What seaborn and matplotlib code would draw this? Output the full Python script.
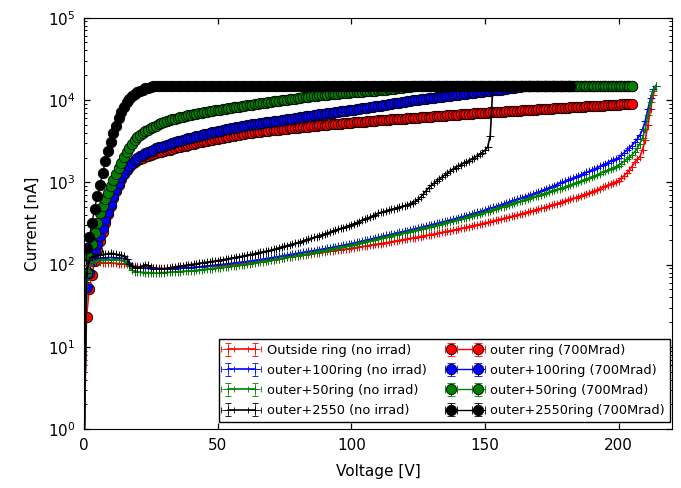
import matplotlib
matplotlib.use("Agg")
import matplotlib.pyplot as plt
import seaborn as sns

# ---------------- data ----------------
labels_non = ["Outside ring (no irrad)", "outer+100ring (no irrad)",
              "outer+50ring (no irrad)", "outer+2550 (no irrad)"]
labels_irr = ["outer ring (700Mrad)", "outer+100ring (700Mrad)",
              "outer+50ring (700Mrad)", "outer+2550ring (700Mrad)"]
colors = ["red", "blue", "green", "black"]

# voltages: 1 V steps
v_red_irr = list(range(0, 206))
v_blue_irr = list(range(0, 206))
v_green_irr = list(range(0, 206))
v_black_irr = list(range(0, 183))
v_red_non = list(range(0, 215))
v_blue_non = list(range(0, 215))
v_green_non = list(range(0, 215))
v_black_non = list(range(0, 154))

i_red_irr = [
    0.5, 23, 50, 75, 110, 150, 195, 250, 320, 410,
    520, 650, 790, 940, 1100, 1260, 1400, 1530, 1650, 1760,
    1850, 1930, 2000, 2060, 2110, 2160, 2210, 2260, 2310, 2350,
    2400, 2450, 2500, 2550, 2600, 2650, 2700, 2750, 2800, 2850,
    2900, 2950, 3000, 3050, 3100, 3150, 3200, 3250, 3300, 3350,
    3400, 3450, 3500, 3550, 3600, 3650, 3700, 3740, 3790, 3830,
    3880, 3920, 3960, 4000, 4040, 4080, 4120, 4160, 4200, 4240,
    4280, 4310, 4350, 4380, 4420, 4450, 4480, 4520, 4550, 4590,
    4620, 4660, 4690, 4730, 4760, 4800, 4840, 4870, 4910, 4940,
    4980, 5010, 5050, 5080, 5120, 5150, 5180, 5220, 5250, 5290,
    5320, 5350, 5380, 5420, 5450, 5480, 5510, 5540, 5580, 5610,
    5640, 5670, 5700, 5740, 5770, 5800, 5830, 5860, 5900, 5930,
    5960, 5990, 6020, 6060, 6090, 6120, 6160, 6190, 6230, 6260,
    6300, 6330, 6370, 6400, 6440, 6470, 6510, 6540, 6580, 6610,
    6650, 6690, 6720, 6760, 6790, 6830, 6860, 6900, 6930, 6970,
    7000, 7040, 7070, 7110, 7140, 7180, 7210, 7250, 7280, 7320,
    7350, 7380, 7420, 7450, 7490, 7520, 7560, 7590, 7630, 7660,
    7700, 7740, 7770, 7810, 7840, 7880, 7920, 7950, 7990, 8020,
    8060, 8100, 8130, 8170, 8200, 8240, 8280, 8310, 8350, 8380,
    8420, 8460, 8490, 8530, 8560, 8600, 8640, 8680, 8720, 8760,
    8800, 8840, 8880, 8920, 8960, 9000]

i_blue_irr = [
    0.5, 54, 80, 110, 145, 180, 220, 275, 345, 435,
    550, 680, 830, 990, 1150, 1310, 1460, 1600, 1730, 1850,
    1960, 2060, 2160, 2250, 2340, 2420, 2500, 2580, 2650, 2720,
    2790, 2860, 2930, 3000, 3070, 3140, 3210, 3280, 3350, 3420,
    3490, 3560, 3630, 3700, 3770, 3840, 3910, 3980, 4050, 4120,
    4190, 4260, 4330, 4400, 4460, 4530, 4600, 4660, 4730, 4790,
    4860, 4920, 4990, 5050, 5110, 5160, 5220, 5280, 5340, 5390,
    5450, 5510, 5570, 5620, 5680, 5740, 5810, 5880, 5960, 6030,
    6100, 6170, 6240, 6310, 6380, 6460, 6530, 6600, 6670, 6750,
    6820, 6900, 6970, 7050, 7120, 7200, 7270, 7350, 7420, 7500,
    7570, 7660, 7740, 7830, 7910, 8000, 8090, 8170, 8260, 8340,
    8430, 8510, 8600, 8720, 8830, 8950, 9070, 9180, 9300, 9420,
    9530, 9650, 9770, 9880, 10000, 10100, 10200, 10300, 10400, 10500,
    10600, 10700, 10800, 10900, 11000, 11100, 11200, 11300, 11410, 11520,
    11630, 11730, 11840, 11950, 12060, 12170, 12280, 12380, 12490, 12600,
    12710, 12820, 12940, 13050, 13160, 13270, 13390, 13500, 13670, 13830,
    14000, 14170, 14330, 14500, 14800, 15000, 15000, 15000, 15000, 15000,
] + [15000] * 36

i_green_irr = [
    0.5, 78, 125, 180, 240, 320, 420, 520, 620, 750,
    890, 1070, 1260, 1480, 1740, 2040, 2340, 2630, 2950, 3240,
    3550, 3800, 4000, 4170, 4350, 4530, 4700, 4880, 5050, 5220,
    5380, 5530, 5680, 5820, 5960, 6090, 6200, 6300, 6400, 6500,
    6600, 6700, 6790, 6890, 6990, 7090, 7180, 7280, 7380, 7470,
    7570, 7660, 7760, 7850, 7950, 8040, 8140, 8230, 8320, 8420,
    8510, 8610, 8700, 8800, 8900, 9000, 9100, 9200, 9300, 9400,
    9500, 9600, 9700, 9800, 9900, 10000, 10110, 10220, 10330, 10430,
    10540, 10650, 10760, 10870, 10980, 11080, 11190, 11300, 11380, 11470,
    11550, 11640, 11720, 11810, 11890, 11980, 12060, 12150, 12230, 12320,
    12400, 12470, 12530, 12600, 12670, 12730, 12800, 12870, 12930, 13000,
    13070, 13130, 13200, 13340, 13480, 13620, 13750, 13890, 14030, 14170,
    14310, 14450, 14580, 14720, 14860,
] + [15000] * 81

i_black_irr = [
    0.5, 158, 215, 320, 480, 690, 930, 1300, 1800, 2400,
    3100, 4000, 4900, 6000, 7100, 8300, 9400, 10300, 11100, 11800,
    12400, 12900, 13400, 13800, 14100, 14400, 14600, 14800, 14900,
] + [15000] * 154

i_red_non = [
    0.5, 60, 95, 104, 107, 108, 107, 106, 106, 105,
    105, 104, 104, 103, 103, 102, 101, 99, 97, 96,
    95, 94, 93, 93, 92, 92, 91, 91, 90, 90,
    90, 90, 90, 90, 91, 91, 91, 91, 92, 92,
    92, 92.5, 93, 93.5, 94, 94.5, 95, 95.5, 96, 96.5,
    97, 97.6, 98.2, 98.8, 99.4, 100, 100.6, 101.2, 101.8, 102.4,
    103, 104, 105, 106, 107, 108.5, 109.5, 110.5, 111.5, 113,
    114, 115.3, 116.7, 118, 119.4, 120.8, 122.2, 123.6, 125, 126.5,
    128, 129.5, 131, 132.4, 133.9, 135.4, 137, 138.5, 140, 141.5,
    143, 144.4, 145.9, 147.3, 148.8, 150.3, 151.8, 153.3, 154.9, 156.4,
    158, 160, 162, 164, 166, 168, 170, 172, 174, 176,
    178, 180, 182.5, 185, 187, 189.5, 192, 194, 197, 199.5,
    202, 205, 208, 211, 213, 216, 219, 222, 226, 229,
    232, 235.5, 239, 243, 246.5, 250, 254, 258, 262, 266,
    270, 274.6, 279, 284, 289, 294, 299, 304, 309, 314.5,
    320, 326, 332, 338, 344, 351, 357, 364, 371, 378,
    385, 393, 401, 409, 417, 425, 434, 443, 452, 461,
    470, 481, 492, 503, 515, 527, 539, 551, 564, 577,
    590, 605, 621, 637, 653, 670, 687, 705, 723, 741,
    760, 785, 811, 838, 865, 894, 923, 954, 985, 1017,
    1050, 1120, 1200, 1290, 1410, 1550, 1750, 1900, 2050, 2500,
    3300, 5000, 7800, 11500, 15000]

i_blue_non = [
    0.5, 70, 105, 114, 118, 119, 120, 121, 121, 122,
    122, 122, 121, 121, 120, 119, 116, 106, 97, 93,
    92, 91, 91, 90, 90, 90, 89, 89, 89, 88,
    88, 88.4, 88.8, 89.2, 89.6, 90, 90.4, 90.8, 91.2, 91.6,
    92, 92.7, 93.4, 94.1, 94.8, 95.5, 96.2, 96.9, 97.6, 98.3,
    99, 99.9, 100.8, 101.7, 102.6, 103.5, 104.4, 105.3, 106.2, 107.1,
    108, 109.2, 110.4, 111.6, 112.8, 114.1, 115.4, 116.7, 118, 119.5,
    121, 122.5, 124, 125.6, 127.2, 128.8, 130.4, 132, 133.7, 135.3,
    137, 138.8, 140.6, 142.5, 144.3, 146.2, 148.1, 150.1, 152, 154,
    156, 158.3, 160.6, 163, 165.4, 167.8, 170.2, 172.7, 175.2, 177.6,
    180, 183, 186.5, 190, 193, 196.5, 200, 203.5, 207.5, 211,
    215, 218.5, 222.5, 226, 230, 234, 238, 242, 246, 250.5,
    255, 259.5, 264, 269, 274, 279, 284, 289, 294, 299.5,
    305, 311, 317, 323, 329, 336, 342, 349, 356, 363,
    370, 378, 386, 395, 403, 412, 421, 431, 440, 450,
    460, 472, 483, 495, 508, 521, 534, 547, 561, 575,
    590, 605, 621, 637, 653, 670, 687, 705, 723, 741,
    760, 783, 808, 833, 858, 885, 912, 940, 969, 999,
    1030, 1062, 1095, 1129, 1164, 1200, 1238, 1276, 1316, 1357,
    1400, 1451, 1504, 1558, 1615, 1674, 1734, 1797, 1862, 1930,
    2000, 2130, 2280, 2440, 2610, 2800, 3050, 3350, 3750, 4400,
    5600, 7800, 10500, 13500, 15000]

i_green_non = [
    0.5, 65, 100, 109, 112, 113, 114, 114, 114, 115,
    115, 115, 114, 114, 113, 112, 108, 95, 85, 82,
    82, 81, 81, 80, 80, 80, 79, 79, 79, 80,
    80, 80.4, 80.8, 81.2, 81.6, 82, 82.4, 82.8, 83.2, 83.6,
    84, 84.7, 85.4, 86.1, 86.8, 87.5, 88.2, 88.9, 89.6, 90.3,
    91, 91.9, 92.8, 93.7, 94.6, 95.5, 96.4, 97.3, 98.2, 99.1,
    100, 101.2, 102.5, 103.7, 105, 106.3, 107.6, 108.9, 110.3, 111.6,
    113, 114.5, 116.1, 117.6, 119.2, 120.8, 122.4, 124, 125.7, 127.3,
    129, 130.8, 132.6, 134.5, 136.3, 138.2, 140.1, 142, 144, 146,
    148, 150.2, 152.5, 154.8, 157.2, 159.5, 162, 164.4, 166.9, 169.4,
    172, 175, 178, 181, 184, 187.5, 191, 194, 197.5, 201,
    205, 208.5, 212, 216, 219.5, 223.5, 227, 231, 235, 239,
    243, 247.5, 251.5, 256, 260.5, 265, 270, 274.5, 279.5, 284.5,
    290, 295.5, 301, 307, 313, 319, 325, 331, 337, 343.5,
    350, 357, 365, 372, 380, 388, 396, 404, 413, 421,
    430, 440, 451, 462, 473, 484, 496, 508, 520, 532,
    545, 558, 571, 585, 599, 613, 628, 643, 658, 674,
    690, 707, 724, 742, 760, 779, 798, 818, 838, 859,
    880, 905, 930, 956, 983, 1010, 1038, 1067, 1097, 1128,
    1160, 1198, 1237, 1278, 1319, 1362, 1407, 1453, 1500, 1549,
    1600, 1690, 1790, 1900, 2020, 2150, 2350, 2600, 2950, 3500,
    4500, 6500, 9500, 13000, 15000]

i_black_non = [
    0.5, 80, 115, 125, 128, 131, 132, 133, 134, 136,
    137, 136, 134, 132, 130, 128, 118, 102, 95, 92,
    90, 93, 97, 100, 98, 94, 91, 90, 89, 89,
    89, 90, 91.5, 93, 94, 95, 96, 97, 98, 99,
    100, 101.1, 102.3, 103.4, 104.6, 105.8, 107, 108.2, 109.4, 110.7,
    112, 113.5, 115, 116.6, 118.2, 119.8, 121.4, 123, 124.7, 126.3,
    128, 130, 132, 134.2, 136.4, 138.6, 140.8, 143.1, 145.4, 147.7,
    150, 153, 156.5, 160, 163.5, 167, 170.5, 174, 177.5, 181,
    185, 189.5, 194, 199, 204, 209, 214, 219, 224, 229.5,
    235, 241, 247.5, 254, 261, 268, 275, 282, 289.5, 297,
    305, 314, 324, 334, 344, 355, 366, 377, 389, 404,
    420, 430, 440, 450, 460, 470, 480, 490, 500, 510,
    520, 535, 550, 565, 590, 620, 665, 720, 790, 860,
    920, 980, 1040, 1100, 1165, 1230, 1300, 1370, 1440, 1510,
    1580, 1640, 1700, 1770, 1830, 1900, 1990, 2080, 2180, 2300,
    2450, 2650, 3700, 15000]

x_ticks = [0, 50, 100, 150, 200]

# ---------------- style ----------------
sns.set_style("ticks", rc={
    "axes.edgecolor": "black",
    "axes.linewidth": 1.0,
    "xtick.direction": "in",
    "ytick.direction": "in",
    "xtick.top": True,
    "ytick.right": True,
    "xtick.major.size": 4,
    "ytick.major.size": 4,
    "xtick.minor.size": 2,
    "ytick.minor.size": 2,
    "xtick.color": "black",
    "ytick.color": "black",
    "text.color": "black",
    "axes.labelcolor": "black",
})
plt.rcParams["font.family"] = ["DejaVu Sans"]
plt.rcParams["mathtext.fontset"] = "dejavusans"

fig = plt.figure(figsize=(6.81, 4.88), dpi=100)
ax = fig.add_axes([0.1233, 0.1205, 0.8635, 0.8432])

irr_sets = [(v_red_irr, i_red_irr), (v_blue_irr, i_blue_irr),
            (v_green_irr, i_green_irr), (v_black_irr, i_black_irr)]
non_sets = [(v_red_non, i_red_non), (v_blue_non, i_blue_non),
            (v_green_non, i_green_non), (v_black_non, i_black_non)]

handles_irr = []
for (v, cur), c, lab in zip(irr_sets, colors, labels_irr):
    h = ax.errorbar(v, cur, xerr=0, yerr=0, fmt="-o", color=c, ecolor=c,
                    mfc=c, mec="black", mew=0.6, ms=7.5, lw=1.0,
                    elinewidth=0.8, capsize=3, label=lab)
    handles_irr.append(h)

handles_non = []
for (v, cur), c, lab in zip(non_sets, colors, labels_non):
    h = ax.errorbar(v, cur, xerr=0, yerr=0, fmt="-+", color=c, ecolor=c,
                    mec=c, mew=0.6, ms=6, lw=1.2,
                    elinewidth=0.5, capsize=2.2, capthick=0.5, label=lab)
    handles_non.append(h)

ax.set_yscale("log")
ax.set_xlim(0, 220)
ax.set_ylim(1, 1e5)
ax.set_xticks(x_ticks)
ax.tick_params(axis="both", which="major", labelsize=11, pad=6,
               length=4.5, width=0.9)
ax.tick_params(axis="y", which="minor", length=2.5, width=0.7,
               left=True, right=True)
ax.set_xlabel("Voltage [V]", fontsize=11, labelpad=8)
ax.set_ylabel("Current [nA]", fontsize=11, labelpad=6)

leg = ax.legend(handles_non + handles_irr, labels_non + labels_irr,
                loc="lower right", bbox_to_anchor=(0.996, 0.017),
                ncol=2, numpoints=2, fontsize=9.3, frameon=True,
                fancybox=False, framealpha=1, edgecolor="black",
                handlelength=2.7, handletextpad=0.6, columnspacing=1.6,
                labelspacing=0.55, borderpad=0.4, borderaxespad=0.0)
leg.get_frame().set_linewidth(1.0)

fig.savefig("out.png", dpi=100)
